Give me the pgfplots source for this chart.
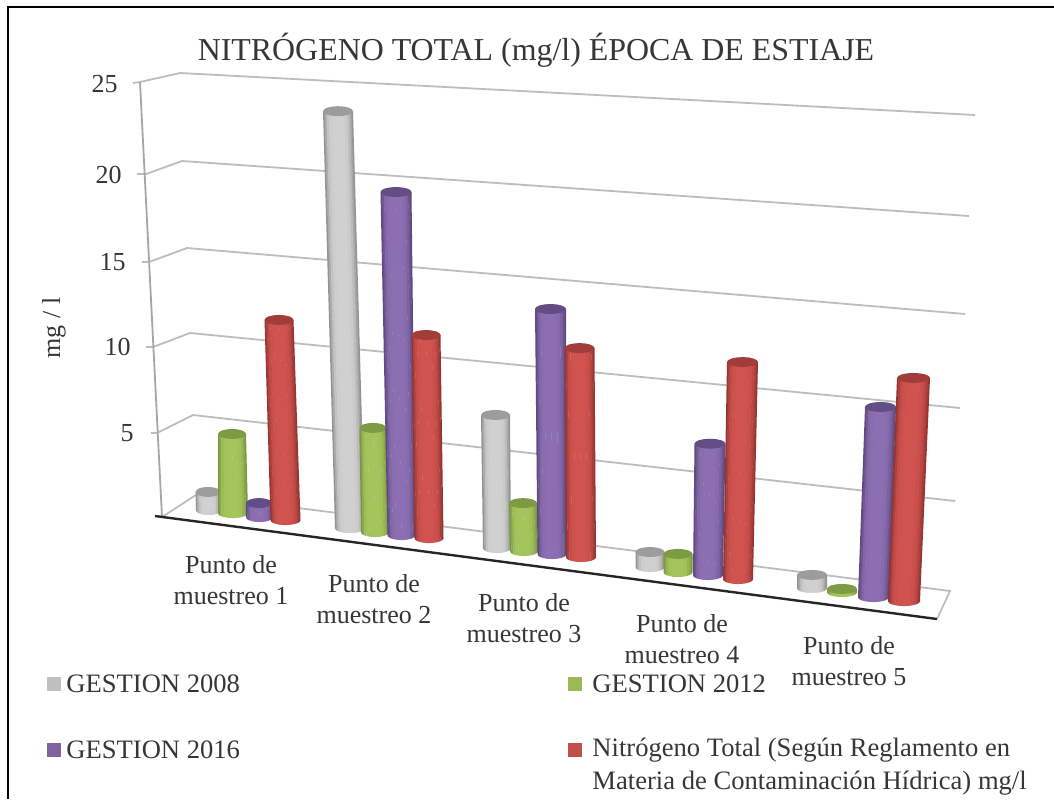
\documentclass[border=0pt]{standalone}
\usepackage{fontspec}
\setmainfont{Liberation Serif}
\usepackage{pgfplots}
\usepackage{pgfplotstable}
\pgfplotsset{compat=1.18}

\definecolor{txt}{HTML}{363636}
\definecolor{gridc}{HTML}{BDBDBD}
\definecolor{wallc}{HTML}{A6A6A6}
\definecolor{grayM}{HTML}{D0D0D0}
\definecolor{grayE}{HTML}{8C8C8C}
\definecolor{grayC}{HTML}{9C9C9C}
\definecolor{grayF}{HTML}{BFBFBF}
\definecolor{greenM}{HTML}{A4C55C}
\definecolor{greenE}{HTML}{76913F}
\definecolor{greenC}{HTML}{7D9B42}
\definecolor{greenF}{HTML}{9BBB59}
\definecolor{purpM}{HTML}{8C6EB2}
\definecolor{purpE}{HTML}{5A4578}
\definecolor{purpC}{HTML}{634D85}
\definecolor{purpF}{HTML}{8064A2}
\definecolor{redM}{HTML}{D0534F}
\definecolor{redE}{HTML}{8E3230}
\definecolor{redC}{HTML}{A23C3A}
\definecolor{redF}{HTML}{C0504D}

% bars: foot centre/half width/foot y, top centre/half width, value in mg/l
\pgfplotstableread{
xb hb yb xt ht v
208.5 12.5 510 208 12.5 1.03
350 15 528 338 15 23.24
497 14 548 495.5 14.5 7.25
650 14.5 567 650 14.5 0.80
812 15 588 812 15 0.68
}\gestionA
\pgfplotstableread{
xb hb yb xt ht v
233 15 513 232 14 4.49
375 14 532 373 13.5 5.78
524 14 551 523 14 2.60
678 14.5 572 678 14.5 0.96
842 15 592 842 15 0.16
}\gestionB
\pgfplotstableread{
xb hb yb xt ht v
259.5 13.5 517 259 13 0.79
401.5 14 535 396 15.5 18.97
552 14.5 554 550.5 15.5 13.24
708 15 575 710 15.5 6.93
873.5 15.5 597 880.5 15.5 9.79
}\gestionC
\pgfplotstableread{
xb hb yb xt ht v
285.5 15 520 279 14.5 11.27
429 14.5 538 426 14.5 11.18
581 15 557 579.5 15 11.24
738 15 579 742.5 15.5 11.40
904 16 601 913.5 16.5 11.44
}\norma

% one vertical strip of a cylinder
\pgfplotstableread{
c s
0 0
0.25 0
0.5 0
0.75 0
1 0
1 1
0 1
}\stripshape
% top ellipse
\pgfplotstableread{
u w
-1 0
-0.92 0.38
-0.71 0.71
-0.38 0.92
0 1
0.38 0.92
0.71 0.71
0.92 0.38
1 0
0.92 -0.38
0.71 -0.71
0.38 -0.92
0 -1
-0.38 -0.92
-0.71 -0.71
-0.92 -0.38
}\capshape

% #1 u from, #2 u to, #3 percent of the light colour, #4 colour prefix
\newcommand\strip[4]{%
  \def\U{min(1,#1+(#2-#1+0.03)*\thisrow{c})}%
  \addplot[draw=none,fill=#4M!#3!#4E]
    table[x expr={(1-\thisrow{s})*(\vxb+\vhb*\U)+\thisrow{s}*(\vxt+\vht*\U)},
          y expr={\vyb-\thisrow{s}*\vv*(17.4+0.00282*(\vxb-160))+(1-\thisrow{s})*5*sqrt(max(0,1-\U*\U))}] {\stripshape};
}
\newcommand\cyl[1]{%
  \strip{-1}{-0.9}{10}{#1}
  \strip{-0.9}{-0.78}{45}{#1}
  \strip{-0.78}{-0.62}{80}{#1}
  \strip{-0.62}{-0.4}{96}{#1}
  \strip{-0.4}{0}{100}{#1}
  \strip{0}{0.4}{100}{#1}
  \strip{0.4}{0.62}{92}{#1}
  \strip{0.62}{0.78}{70}{#1}
  \strip{0.78}{0.9}{40}{#1}
  \strip{0.9}{1}{10}{#1}
  \addplot[draw=none,fill=#1C]
    table[x expr={\vxt+\vht*\thisrow{u}},
          y expr={\vyb-\vv*(17.4+0.00282*(\vxb-160))-5*\thisrow{w}}] {\capshape};
}
\newcommand\serie[2]{%
  \foreach \i in {0,...,4}{%
    \pgfplotstablegetelem{\i}{xb}\of#1\let\vxb\pgfplotsretval
    \pgfplotstablegetelem{\i}{hb}\of#1\let\vhb\pgfplotsretval
    \pgfplotstablegetelem{\i}{yb}\of#1\let\vyb\pgfplotsretval
    \pgfplotstablegetelem{\i}{xt}\of#1\let\vxt\pgfplotsretval
    \pgfplotstablegetelem{\i}{ht}\of#1\let\vht\pgfplotsretval
    \pgfplotstablegetelem{\i}{v}\of#1\let\vv\pgfplotsretval
    \cyl{#2}
  }%
}

\begin{document}
\begin{tikzpicture}
\begin{axis}[
    name=a,
    scale only axis,
    width=527pt,
    height=399.5pt,
    xmin=0, xmax=1054,
    ymin=0, ymax=799,
    y dir=reverse,
    hide axis,
    clip=true,
]
% frame
\addplot[black,line width=1.2pt] coordinates {(8,799) (8,7) (1054,7)};
% back wall grid
\addplot[gridc,line width=0.9pt] coordinates {(133,83) (140,82) (180,73) (975,115)};
\addplot[gridc,line width=0.9pt] coordinates {(137,174) (146,174) (182,161) (969,216)};
\addplot[gridc,line width=0.9pt] coordinates {(142,262) (149,262) (187,248) (965,314)};
\addplot[gridc,line width=0.9pt] coordinates {(146,347) (153,347) (190,333) (960,408)};
\addplot[gridc,line width=0.9pt] coordinates {(151,433) (157,433) (193,415) (955,501)};
\addplot[gridc,line width=0.9pt] coordinates {(162,517) (196,495) (950,591) (937,619)};
\addplot[wallc,line width=0.9pt] coordinates {(140,82) (162,517)};
% front edge
\addplot[black!85,line width=1.2pt] coordinates {(155,516) (937,619)};
% bars
\serie{\gestionA}{gray}
\serie{\gestionB}{green}
\serie{\gestionC}{purp}
\serie{\norma}{red}
% legend swatches
\addplot[fill=grayF,draw=none] coordinates {(47,677) (61,677) (61,691) (47,691)};
\addplot[fill=greenF,draw=none] coordinates {(568,677) (582,677) (582,691) (568,691)};
\addplot[fill=purpF,draw=none] coordinates {(47,743) (61,743) (61,757) (47,757)};
\addplot[fill=redF,draw=none] coordinates {(568,743) (582,743) (582,757) (568,757)};
% text
\begin{scope}[every node/.style={inner sep=0pt,text=txt,font=\fontsize{13}{15}\selectfont}]
\node[font=\fontsize{15.95}{18}\selectfont] at (axis cs:536,50) {NITRÓGENO TOTAL (mg/l) ÉPOCA DE ESTIAJE};
\node[anchor=east] at (axis cs:118,84) {25};
\node[anchor=east] at (axis cs:122,175) {20};
\node[anchor=east] at (axis cs:126,262) {15};
\node[anchor=east] at (axis cs:131,347) {10};
\node[anchor=east] at (axis cs:134,433) {5};
\node[rotate=90] at (axis cs:54,328) {mg / l};
\node[align=center] at (axis cs:231,580) {Punto de\\[0.9pt]muestreo 1};
\node[align=center] at (axis cs:374,599) {Punto de\\[0.9pt]muestreo 2};
\node[align=center] at (axis cs:524,618) {Punto de\\[0.9pt]muestreo 3};
\node[align=center] at (axis cs:682,639) {Punto de\\[0.9pt]muestreo 4};
\node[align=center] at (axis cs:849,661) {Punto de\\[0.9pt]muestreo 5};
\node[anchor=west,font=\fontsize{13.3}{15}\selectfont] at (axis cs:66,684) {GESTION 2008};
\node[anchor=west,font=\fontsize{13.3}{15}\selectfont] at (axis cs:592,684) {GESTION 2012};
\node[anchor=west,font=\fontsize{13.3}{15}\selectfont] at (axis cs:66,750) {GESTION 2016};
\node[anchor=west,font=\fontsize{13.3}{15}\selectfont] at (axis cs:592,750) {Nitrógeno Total (Según Reglamento en};
\node[anchor=west,font=\fontsize{13.3}{15}\selectfont] at (axis cs:592,783) {Materia de Contaminación Hídrica) mg/l};
\end{scope}
\end{axis}
\pgfresetboundingbox
\useasboundingbox (a.south west) rectangle (a.north east);
\end{tikzpicture}
\end{document}
